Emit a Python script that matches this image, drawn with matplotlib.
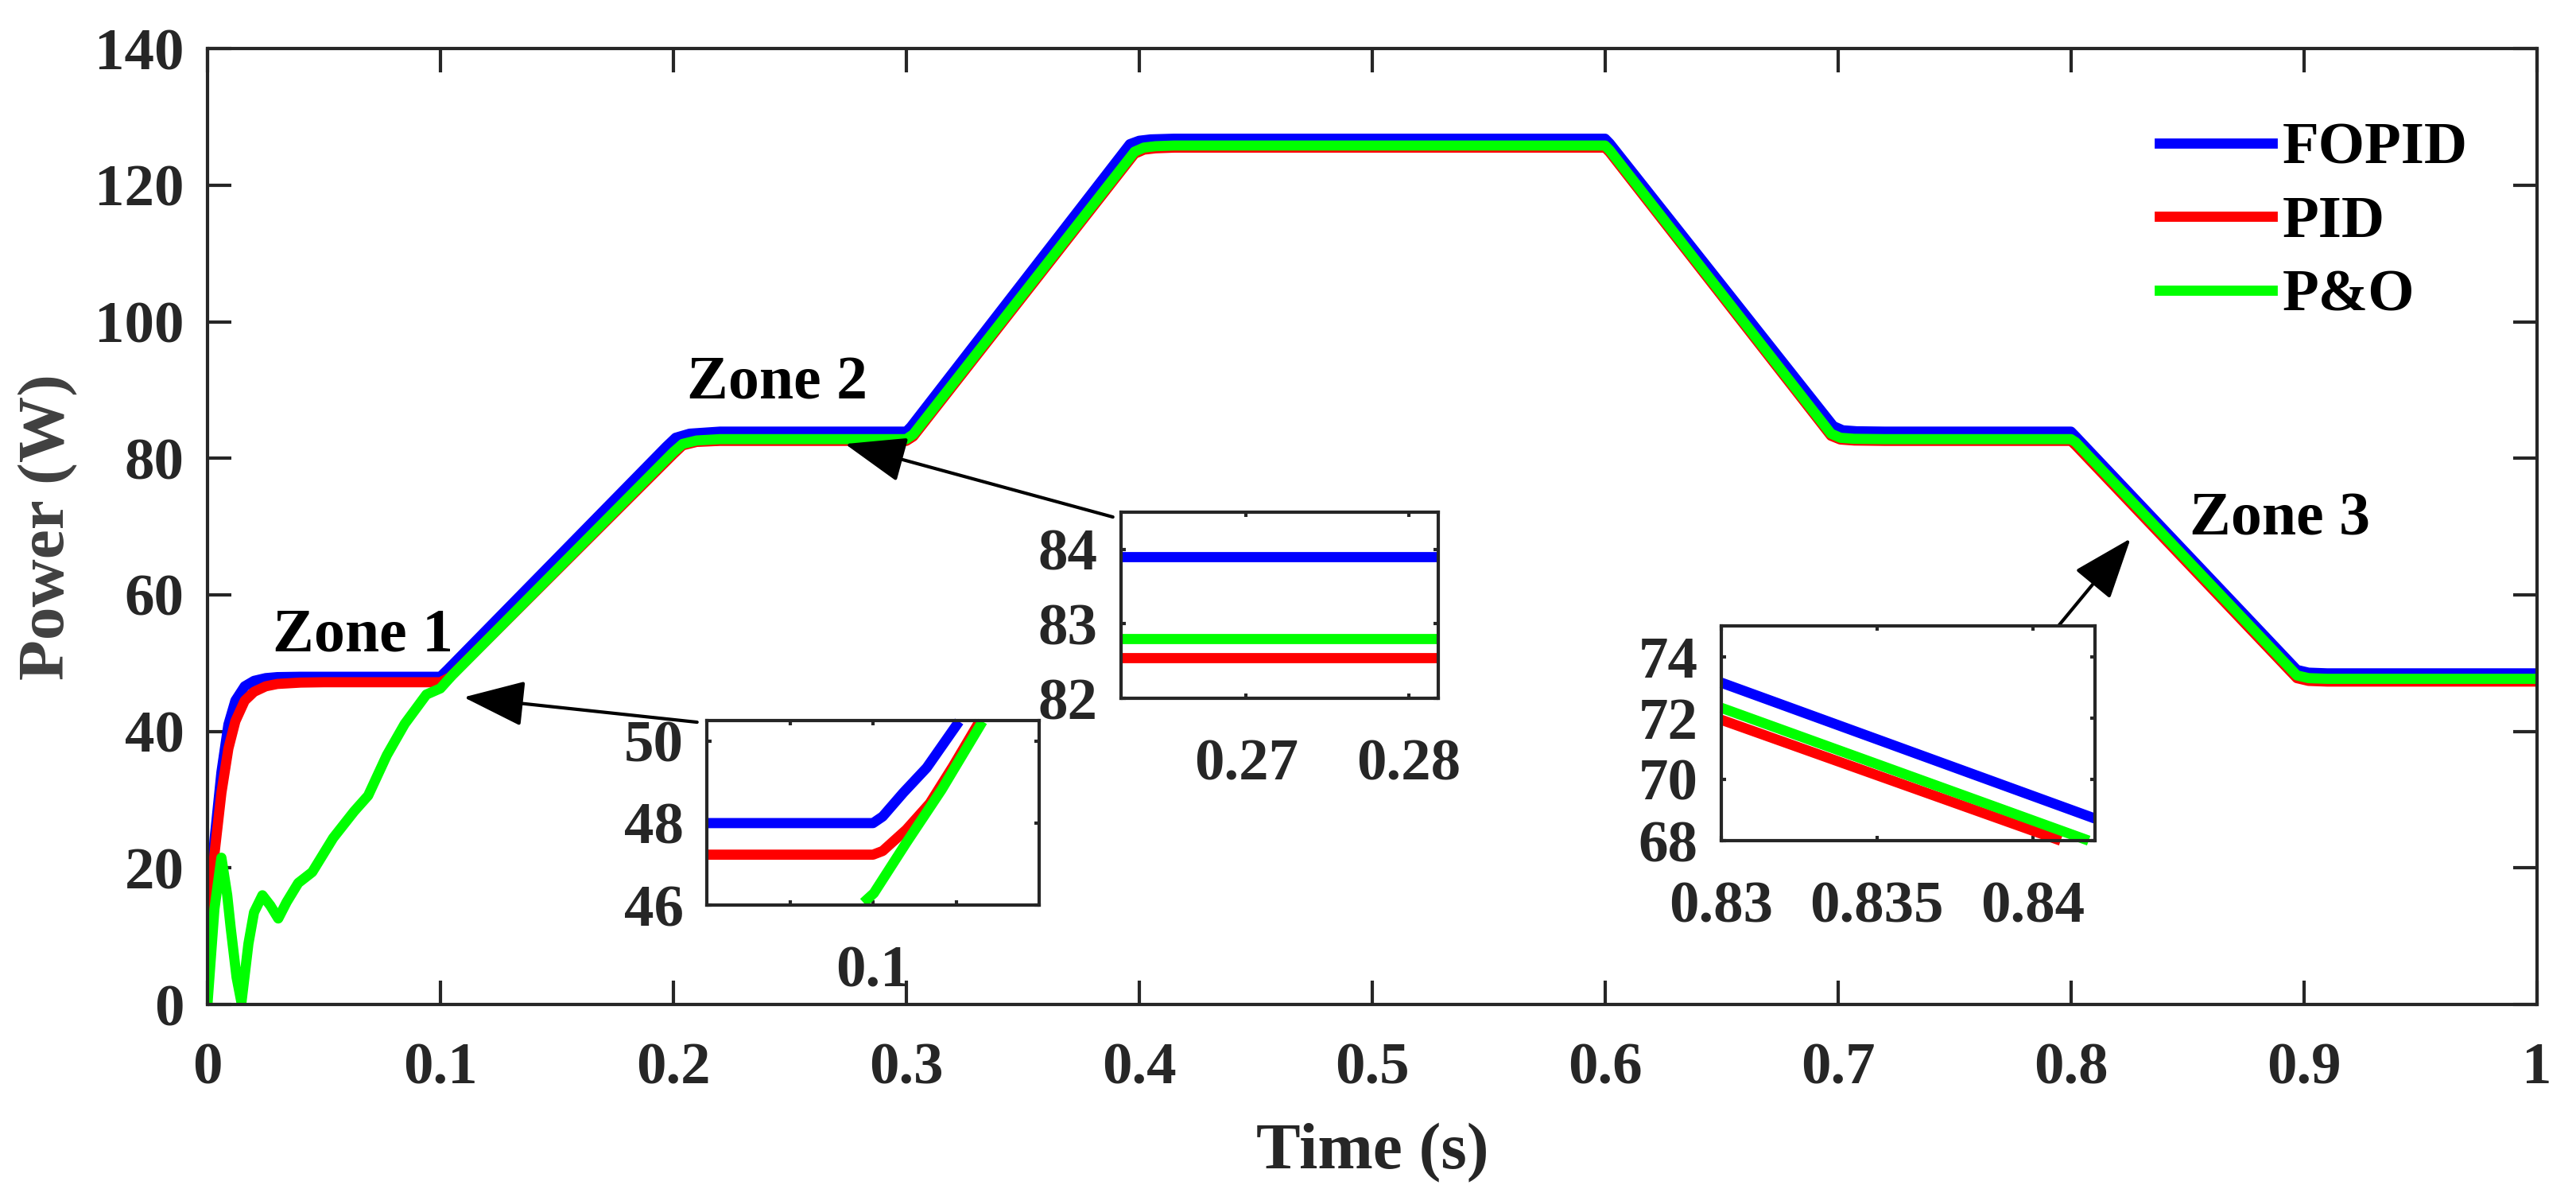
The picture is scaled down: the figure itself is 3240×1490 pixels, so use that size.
import matplotlib
matplotlib.use('Agg')
import matplotlib.pyplot as plt

plt.rcParams['font.family'] = ['Liberation Serif', 'DejaVu Serif']
plt.rcParams['font.weight'] = 'bold'
plt.rcParams['axes.labelweight'] = 'bold'

# ---- main curves (time in s, power in W) ----
fopid_t = [0, 0.003, 0.006, 0.009, 0.012, 0.016, 0.02, 0.025, 0.03, 0.04, 0.1, 0.103,
           0.197, 0.201, 0.207, 0.22, 0.3, 0.302, 0.396, 0.4, 0.405, 0.415, 0.6, 0.602,
           0.698, 0.702, 0.708, 0.72, 0.8, 0.802, 0.897, 0.902, 0.91, 1.0]
fopid_p = [10, 24, 34, 41, 44.5, 46.6, 47.4, 47.8, 47.95, 48.0, 48.0, 49.0,
           81.7, 83.0, 83.6, 83.9, 83.9, 84.6, 126.0, 126.5, 126.7, 126.8, 126.8, 126.1,
           84.7, 84.1, 83.95, 83.9, 83.9, 83.2, 49.0, 48.6, 48.5, 48.5]

pid_t = [0, 0.003, 0.006, 0.009, 0.012, 0.016, 0.02, 0.025, 0.03, 0.04, 0.05, 0.1, 0.104,
         0.2, 0.204, 0.21, 0.22, 0.3, 0.303, 0.398, 0.402, 0.407, 0.415, 0.6, 0.602,
         0.697, 0.701, 0.707, 0.72, 0.8, 0.802, 0.897, 0.902, 0.91, 1.0]
pid_p = [10, 22, 31, 37.5, 41.5, 44.5, 45.8, 46.6, 46.95, 47.15, 47.2, 47.2, 47.9,
         80.6, 81.9, 82.4, 82.55, 82.55, 83.2, 124.6, 125.2, 125.4, 125.5, 125.5, 124.8,
         83.3, 82.75, 82.6, 82.55, 82.55, 81.9, 47.8, 47.4, 47.3, 47.3]

po_t = [0, 0.003, 0.006, 0.0085, 0.010, 0.0125, 0.0146, 0.0176, 0.020, 0.0236, 0.027,
        0.0304, 0.034, 0.039, 0.045, 0.054, 0.063, 0.069, 0.077, 0.0847, 0.094, 0.1, 0.105,
        0.2, 0.204, 0.21, 0.22, 0.3, 0.303, 0.398, 0.402, 0.407, 0.415, 0.6, 0.602,
        0.697, 0.701, 0.707, 0.72, 0.8, 0.802, 0.897, 0.902, 0.91, 1.0]
po_p = [0, 14, 21.5, 16, 11.2, 4, 0.3, 8.9, 13.5, 16, 14.5,
        12.6, 15, 17.8, 19.4, 24.4, 28.3, 30.6, 36.5, 41.1, 45.4, 46.3, 48.2,
        80.9, 82.1, 82.6, 82.8, 82.8, 83.5, 124.9, 125.5, 125.7, 125.8, 125.8, 125.1,
        83.6, 83.0, 82.85, 82.8, 82.8, 82.35, 48.2, 47.8, 47.7, 47.7]

# ---- zoom 1 (around t = 0.1) ----
z1_fopid_t = [0.09, 0.1, 0.10058, 0.10182, 0.10323, 0.10518]
z1_fopid_p = [48.0, 48.0, 48.16, 48.74, 49.35, 50.48]
z1_pid_t = [0.09, 0.1, 0.10058, 0.1020, 0.10341, 0.10482, 0.10641]
z1_pid_p = [47.23, 47.23, 47.32, 47.84, 48.48, 49.39, 50.48]
z1_po_t = [0.09943, 0.10005, 0.1020, 0.10412, 0.10659]
z1_po_p = [46.06, 46.29, 47.52, 48.81, 50.48]

# ---- zoom 2 (flat part, 0.27-0.28 s) ----
z2_t = [0.2623, 0.2818]
z2_fopid_p = [83.9, 83.9]
z2_pid_p = [82.55, 82.55]
z2_po_p = [82.8, 82.8]

# ---- zoom 3 (falling part, 0.83-0.84 s) ----
z3_fopid_t = [0.83, 0.842]
z3_fopid_p = [73.15, 68.72]
z3_pid_t = [0.83, 0.8409]
z3_pid_p = [71.94, 68.0]
z3_po_t = [0.83, 0.8418]
z3_po_p = [72.33, 68.0]

labels = ['FOPID', 'PID', 'P&O']
colors = ['#0000ff', '#ff0000', '#00ff00']
tick_color = '#262626'
lw = 4.6


def style_axes(a, ticklen, xpad, ypad):
    a.tick_params(direction='in', length=ticklen, width=1.5, colors=tick_color,
                  labelsize=27, top=True, right=True)
    a.tick_params(axis='x', pad=xpad)
    a.tick_params(axis='y', pad=ypad)
    for s in a.spines.values():
        s.set_linewidth(1.5)
        s.set_color(tick_color)


fig = plt.figure(figsize=(16.205, 7.45), dpi=200)
ax = fig.add_axes([0.0805, 0.1523, 0.9040, 0.8067])

h1, = ax.plot(fopid_t, fopid_p, color=colors[0], lw=lw, label=labels[0])
h2, = ax.plot(pid_t, pid_p, color=colors[1], lw=lw, label=labels[1])
h3, = ax.plot(po_t, po_p, color=colors[2], lw=lw, label=labels[2])

ax.set_xlim(0, 1)
ax.set_ylim(0, 140)
xt = [i / 10 for i in range(11)]
ax.set_xticks(xt)
ax.set_xticklabels(['0'] + ['%.1f' % v for v in xt[1:-1]] + ['1'])
ax.set_yticks(range(0, 141, 20))
style_axes(ax, 10.8, 17, 10.5)

ax.set_xlabel('Time (s)', fontsize=30, fontweight='bold', color=tick_color)
ax.set_ylabel('Power (W)', fontsize=30, fontweight='bold', color='#404040')
ax.xaxis.set_label_coords(0.5, -0.124)
ax.yaxis.set_label_coords(-0.0554, 0.5)

ax.legend([h1, h2, h3], labels, loc='upper left', bbox_to_anchor=(0.838, 0.897),
          bbox_transform=fig.transFigure, frameon=False, borderpad=0, borderaxespad=0,
          handlelength=1.9, handletextpad=0.17, labelspacing=0.32, fontsize=27)

# zone labels and arrows
ax.text(0.028, 51.8, 'Zone 1', fontsize=28, color='k', ha='left', va='baseline')
ax.text(0.206, 88.7, 'Zone 2', fontsize=28, color='k', ha='left', va='baseline')
ax.text(0.851, 68.8, 'Zone 3', fontsize=28, color='k', ha='left', va='baseline')

arrow = dict(arrowstyle='-|>,head_length=2.4,head_width=0.9', mutation_scale=10,
             lw=1.5, color='k', shrinkA=0, shrinkB=0)
ax.annotate('', xy=(0.110, 45.0), xytext=(0.2102, 41.35), arrowprops=arrow,
            annotation_clip=False)
ax.annotate('', xy=(0.2737, 82.1), xytext=(0.3887, 71.4), arrowprops=arrow,
            annotation_clip=False)
ax.annotate('', xy=(0.8256, 68.25), xytext=(0.7928, 54.7), arrowprops=arrow,
            annotation_clip=False)

# inset 1
a1 = fig.add_axes([0.2743, 0.2362, 0.1290, 0.1557])
a1.plot(z1_fopid_t, z1_fopid_p, color=colors[0], lw=lw, solid_capstyle='butt', clip_on=False)
a1.plot(z1_pid_t, z1_pid_p, color=colors[1], lw=lw, solid_capstyle='butt', clip_on=False)
a1.plot(z1_po_t, z1_po_p, color=colors[2], lw=lw, solid_capstyle='butt', clip_on=False)
a1.set_xlim(0.09, 0.11)
a1.set_ylim(46, 50.5)
a1.set_xticks([0.095, 0.1, 0.105])
a1.set_xticklabels(['', '0.1', ''])
a1.set_yticks([46, 48, 50])
style_axes(a1, 2.2, 18, 10.5)

# inset 2
a2 = fig.add_axes([0.4350, 0.4107, 0.1231, 0.1570])
a2.plot(z2_t, z2_fopid_p, color=colors[0], lw=lw, solid_capstyle='butt')
a2.plot(z2_t, z2_pid_p, color=colors[1], lw=lw, solid_capstyle='butt')
a2.plot(z2_t, z2_po_p, color=colors[2], lw=lw, solid_capstyle='butt')
a2.set_xlim(0.2623, 0.2818)
a2.set_ylim(82, 84.5)
a2.set_xticks([0.27, 0.28])
a2.set_xticklabels(['0.27', '0.28'])
a2.set_yticks([82, 83, 84])
style_axes(a2, 2.2, 18, 10.5)

# inset 3
a3 = fig.add_axes([0.6680, 0.2906, 0.1450, 0.1812])
a3.plot(z3_fopid_t, z3_fopid_p, color=colors[0], lw=lw, solid_capstyle='butt', clip_on=False)
a3.plot(z3_pid_t, z3_pid_p, color=colors[1], lw=lw, solid_capstyle='butt', clip_on=False)
a3.plot(z3_po_t, z3_po_p, color=colors[2], lw=lw, solid_capstyle='butt', clip_on=False)
a3.set_xlim(0.83, 0.842)
a3.set_ylim(68, 75)
a3.set_xticks([0.83, 0.835, 0.84])
a3.set_xticklabels(['0.83', '0.835', '0.84'])
a3.set_yticks([68, 70, 72, 74])
style_axes(a3, 2.2, 18, 10.5)

fig.savefig('out.png', dpi=200, facecolor='white')
